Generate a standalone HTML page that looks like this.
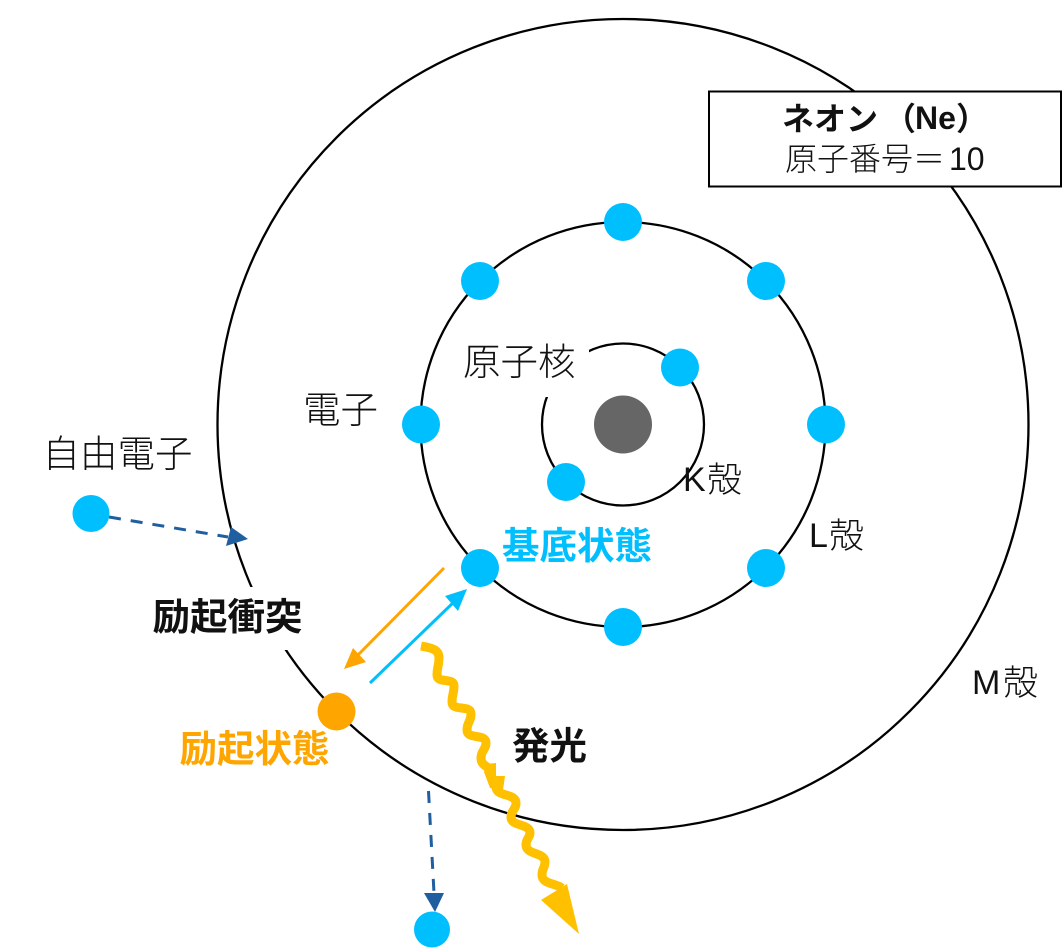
<!DOCTYPE html>
<html lang="ja">
<head>
<meta charset="utf-8">
<style>
html,body{margin:0;padding:0;background:#fff;width:1062px;height:948px;overflow:hidden}
svg{display:block}
text{font-family:"Liberation Sans","Noto Sans CJK JP",sans-serif;fill:#111}
.l{font-size:34px}
.j{font-family:"Noto Sans CJK JP",sans-serif;font-weight:300;font-size:37.500px}
.s{font-family:"Noto Sans CJK JP",sans-serif;font-weight:300;font-size:35px}
.b{font-family:"Noto Sans CJK JP",sans-serif;font-weight:700;font-size:37.500px}
.t{font-family:"Noto Sans CJK JP",sans-serif;font-weight:700;font-size:32px}
.tr{font-family:"Noto Sans CJK JP",sans-serif;font-weight:300;font-size:32px}
</style>
</head>
<body>
<svg width="1062" height="948" viewBox="0 0 1062 948" xmlns="http://www.w3.org/2000/svg">
<g fill="none" stroke="#000" stroke-width="2.300">
<circle cx="623" cy="424.500" r="405.500"/>
<circle cx="623" cy="424.500" r="202.500"/>
<circle cx="623" cy="424.500" r="81"/>
</g>
<rect x="459" y="335" width="130" height="62" fill="#fff"/>
<rect x="150" y="587" width="155" height="63" fill="#fff"/>
<rect x="709" y="91.500" width="352" height="95" fill="#fff" stroke="#000" stroke-width="2"/>
<circle cx="623" cy="424.500" r="29" fill="#666"/>
<g fill="#00bfff">
<circle cx="623" cy="222" r="19"/><circle cx="766" cy="281" r="19"/>
<circle cx="826" cy="424.500" r="19"/><circle cx="766" cy="568" r="19"/>
<circle cx="623" cy="627" r="19"/><circle cx="480" cy="568" r="19"/>
<circle cx="421" cy="424.500" r="19"/><circle cx="480" cy="281" r="19"/>
<circle cx="680" cy="367.500" r="19"/><circle cx="566" cy="482" r="19"/>
<circle cx="91" cy="513.500" r="18.500"/><circle cx="432" cy="929.500" r="18"/>
</g>
<circle cx="336.500" cy="711.500" r="19" fill="#ffa500"/>

<line x1="109" y1="517" x2="228" y2="537" stroke="#1f5f9f" stroke-width="3" stroke-dasharray="12 10"/>
<polygon points="248,539 226,546 231,527" fill="#1f5f9f"/>
<line x1="428.500" y1="791" x2="434" y2="893" stroke="#1f5f9f" stroke-width="3" stroke-dasharray="12 10"/>
<polygon points="424,893 444,893 435,912" fill="#1f5f9f"/>

<line x1="444" y1="568" x2="356" y2="657" stroke="#ffa500" stroke-width="3"/>
<polygon points="344,669 353,648 366,662" fill="#ffa500"/>
<line x1="370" y1="683" x2="456" y2="600" stroke="#00bfff" stroke-width="3"/>
<polygon points="467,589 458,611 445,596" fill="#00bfff"/>

<path fill="none" stroke="#ffc000" stroke-width="9" d="M421 646C431 648 439 649 439 658C439 666 437 667 437 675C437 684 454 677 454 686C454 694 452 694 452 702C452 712 471 704 471 714C471 722 467 722 467 730C467 740 486 733 486 743C486 750 481 750 481 758C481 766 488 766 492 771"/>
<polygon points="486,764 496,763 496,777 505,776 503,790 490,788 484,772" fill="#ffc000"/>
<path fill="none" stroke="#ffc000" stroke-width="9" d="M500 776C500 780 496 781 496 787C496 797 516 793 516 803C516 810 511 810 511 817C511 827 530 823 530 833C530 838 526 838 526 845C526 855 545 852 545 862C545 868 542 868 542 875C542 884 555 883 562 888"/>
<polygon points="541,900 567,884 579,934" fill="#ffc000"/>

<text class="j" x="463" y="375">原子核</text>
<text class="j" x="303" y="423">電子</text>
<text class="j" x="42.500" y="467">自由電子</text>
<text class="l" x="683" y="491">K</text><text class="s" x="707" y="492">殻</text>
<text class="l" x="809" y="547">L</text><text class="s" x="829" y="548">殻</text>
<text class="l" x="972" y="694">M</text><text class="s" x="1003" y="695">殻</text>
<text class="b" x="152.500" y="630">励起衝突</text>
<text class="b" x="502" y="559" style="fill:#00bfff">基底状態</text>
<text class="b" x="179.500" y="762" style="fill:#ffa500">励起状態</text>
<text class="b" x="512" y="759">発光</text>

<text class="t" x="782" y="130">ネオン</text>
<text class="t" x="884" y="130">（</text>
<text x="915" y="129" style="font-size:32px;font-weight:700">Ne</text>
<text class="t" x="956" y="130">）</text>
<text class="tr" x="785" y="170">原子番号</text>
<text class="tr" x="913" y="170">＝</text>
<text x="949" y="170" style="font-size:32px">10</text>
</svg>
</body>
</html>
